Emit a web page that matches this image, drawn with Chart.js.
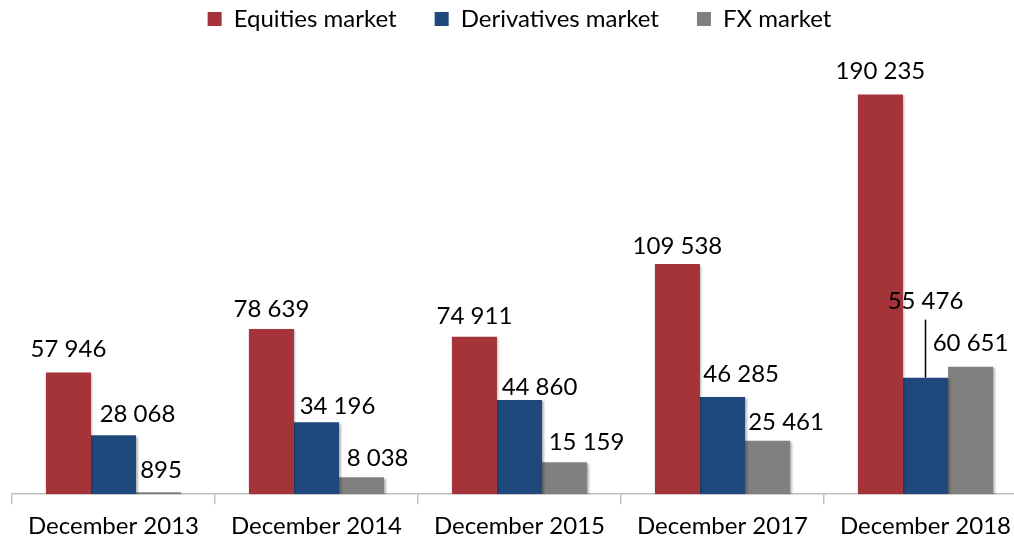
<!DOCTYPE html>
<html>
<head>
<meta charset="utf-8">
<script src="https://cdn.jsdelivr.net/npm/chart.js@4.4.1/dist/chart.umd.min.js"></script>
<style>
  html, body { margin: 0; padding: 0; background: #ffffff; overflow: hidden; }
  /* the plot runs slightly past the right edge of the window */
  #wrap { width: 1027px; height: 539px; position: relative; }
</style>
</head>
<body>
<div id="wrap"><canvas id="chart"></canvas></div>
<script>
// Categories and series values
const categories = ['December 2013', 'December 2014', 'December 2015', 'December 2017', 'December 2018'];
const equities = [57946, 78639, 74911, 109538, 190235];
const derivatives = [28068, 34196, 44860, 46285, 55476];
const fx = [895, 8038, 15159, 25461, 60651];
const seriesNames = ['Equities market', 'Derivatives market', 'FX market'];

const FONT = 'Lato, "Open Sans", sans-serif';
const FONT_SIZE = 24;

function fmt(v) {
  return String(v).replace(/\B(?=(\d{3})+(?!\d))/g, ' ');
}

// Extra room between the legend row and the plot area
const legendSpacing = {
  id: 'legendSpacing',
  afterInit(chart) {
    const legend = chart.legend;
    if (!legend || legend._spaced) return;
    const fit = legend.fit;
    legend.fit = function () {
      fit.call(this);
      this.height += 33;
    };
    legend._spaced = true;
  }
};

// Soft shadow behind the bars
const barShadow = {
  id: 'barShadow',
  beforeDatasetsDraw(chart) {
    const ctx = chart.ctx;
    ctx.save();
    ctx.shadowColor = 'rgba(0,0,0,0.28)';
    ctx.shadowBlur = 2;
    ctx.shadowOffsetX = 1.5;
    ctx.shadowOffsetY = 1.5;
  },
  afterDatasetsDraw(chart) {
    chart.ctx.restore();
  }
};

// Hand placement of each value label: [dx from bar centre, rise of text centre above bar top]
const labelPlacement = [
  [[0, 24.5], [0, 20.5], [0, 21.7], [0, 19], [0, 24]],
  [[24, 22], [21, 17], [20, 14], [18.6, 24], [0, 77]],
  [[2.5, 23], [16, 20], [22, 21], [18.5, 19], [0, 24.7]]
];
// Labels that sit far from their bar get a leader line: [dataset, index, line length]
const leaderLines = [[1, 4, 58]];

const valueLabels = {
  id: 'valueLabels',
  afterDatasetsDraw(chart) {
    const ctx = chart.ctx;
    ctx.save();
    ctx.font = FONT_SIZE + 'px ' + FONT;
    ctx.fillStyle = '#000000';
    ctx.textAlign = 'center';
    ctx.textBaseline = 'alphabetic';
    const half = FONT_SIZE * 0.36;
    chart.data.datasets.forEach((ds, di) => {
      const meta = chart.getDatasetMeta(di);
      meta.data.forEach((bar, i) => {
        const [dx, rise] = labelPlacement[di][i];
        const lead = leaderLines.find(l => l[0] === di && l[1] === i);
        if (lead) {
          ctx.beginPath();
          ctx.strokeStyle = '#000000';
          ctx.lineWidth = 1.5;
          ctx.moveTo(bar.x, bar.y);
          ctx.lineTo(bar.x, bar.y - lead[2]);
          ctx.stroke();
        }
        ctx.fillText(fmt(ds.data[i]), bar.x + dx, bar.y - rise + half);
      });
    });
    ctx.restore();
  }
};

new Chart(document.getElementById('chart'), {
  type: 'bar',
  data: {
    labels: categories,
    datasets: [
      { label: seriesNames[0], data: equities, backgroundColor: '#A5333A' },
      { label: seriesNames[1], data: derivatives, backgroundColor: '#1F497D' },
      { label: seriesNames[2], data: fx, backgroundColor: '#808080' }
    ]
  },
  options: {
    responsive: true,
    maintainAspectRatio: false,
    animation: false,
    layout: { padding: { left: 12, right: 0, top: -31, bottom: -10 } },
    datasets: { bar: { categoryPercentage: 0.666, barPercentage: 1.0 } },
    plugins: {
      legend: {
        position: 'top',
        labels: {
          boxWidth: 14, boxHeight: 14, padding: 38,
          color: '#000000',
          font: { family: FONT, size: FONT_SIZE }
        }
      },
      tooltip: { enabled: false }
    },
    scales: {
      x: {
        offset: true,
        border: { display: true, color: '#BFBFBF', width: 1.5 },
        grid: { display: true, drawOnChartArea: false, drawTicks: true, tickLength: 10, color: '#BFBFBF', lineWidth: 1.5, offset: true },
        ticks: { color: '#000000', font: { family: FONT, size: FONT_SIZE }, padding: 8, maxRotation: 0 }
      },
      y: {
        display: false,
        min: 0,
        max: 200000
      }
    }
  },
  plugins: [legendSpacing, barShadow, valueLabels]
});
</script>
</body>
</html>
